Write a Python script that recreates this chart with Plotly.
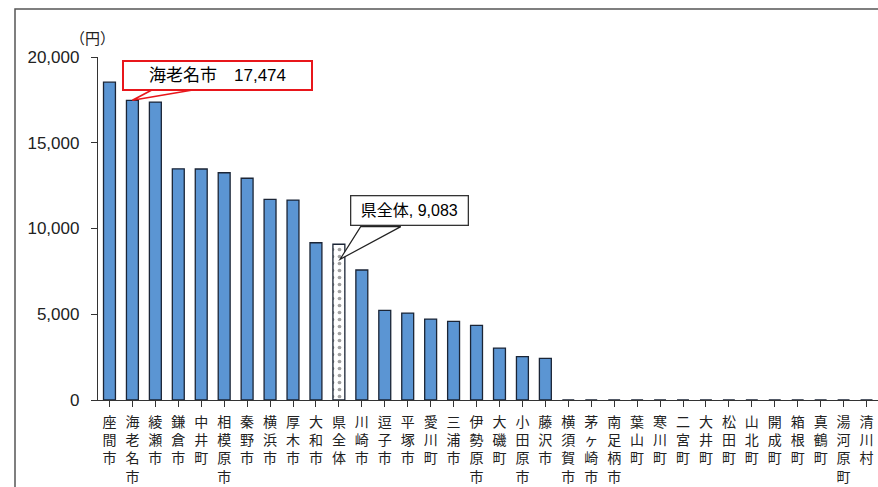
import plotly.graph_objects as go

# Municipalities (Kanagawa) and per-capita amounts in yen
municipalities = [
    "座間市", "海老名市", "綾瀬市", "鎌倉市", "中井町", "相模原市", "秦野市",
    "横浜市", "厚木市", "大和市", "県全体", "川崎市", "逗子市", "平塚市",
    "愛川町", "三浦市", "伊勢原市", "大磯町", "小田原市", "藤沢市",
    "横須賀市", "茅ヶ崎市", "南足柄市", "葉山町", "寒川町", "二宮町",
    "大井町", "松田町", "山北町", "開成町", "箱根町", "真鶴町", "湯河原町",
    "清川村",
]
amounts = [
    18530, 17474, 17370, 13480, 13470, 13250, 12930,
    11700, 11660, 9170, 9083, 7580, 5230, 5070,
    4720, 4590, 4350, 3030, 2530, 2430,
    0, 0, 0, 0, 0, 0,
    0, 0, 0, 0, 0, 0, 0,
    0,
]
y_ticks = [0, 5000, 10000, 15000, 20000]
y_tick_text = ["0", "5,000", "10,000", "15,000", "20,000"]

TOTAL = "県全体"
HIGHLIGHT = "海老名市"

FONT = "Liberation Sans, Noto Sans CJK JP, sans-serif"
BLUE = "#5B95D3"
EDGE = "#1B2536"

# vertical (stacked) category labels
tick_text = ["<br>".join(list(name)) for name in municipalities]

colors = ["white" if m == TOTAL else BLUE for m in municipalities]
patterns = ["." if m == TOTAL else "" for m in municipalities]

fig = go.Figure()
fig.add_trace(go.Bar(
    x=list(range(len(municipalities))),
    y=amounts,
    width=0.52,
    marker=dict(
        color=colors,
        line=dict(color=EDGE, width=1.3),
        pattern=dict(shape=patterns, fgcolor="black", size=7,
                     solidity=0.22, fillmode="overlay"),
    ),
    hoverinfo="skip",
))

n = len(municipalities)
i_total = municipalities.index(TOTAL)
i_hl = municipalities.index(HIGHLIGHT)

# callout wedge for the highlighted city
fig.add_shape(
    type="path", xref="x", yref="y",
    path=f"M {i_hl + 0.95},18150 L {i_hl},{amounts[i_hl]} L {i_hl + 2.95},18150 Z",
    fillcolor="white", line=dict(color="#E8161B", width=1.6), layer="above",
)
fig.add_annotation(
    x=(122 - 98) / 780, y=(400 - 60) / 343, xref="paper", yref="paper",
    xanchor="left", yanchor="top", showarrow=False,
    text="海老名市　17,474", width=183, height=23,
    font=dict(family=FONT, size=17, color="black"),
    bgcolor="white", bordercolor="#E8161B", borderwidth=2, borderpad=2,
)

# callout wedge for the prefecture total
fig.add_shape(
    type="path", xref="x", yref="y",
    path=f"M {i_total + 0.95},10110 L {i_total + 0.05},8200 L {i_total + 2.7},10110 Z",
    fillcolor="white", line=dict(color="#222222", width=1.2), layer="above",
)
fig.add_annotation(
    x=(350 - 98) / 780, y=(400 - 195) / 343, xref="paper", yref="paper",
    xanchor="left", yanchor="top", showarrow=False,
    text="県全体, 9,083", width=112, height=24,
    font=dict(family=FONT, size=16, color="black"),
    bgcolor="white", bordercolor="#333333", borderwidth=1.3, borderpad=2,
)

# unit label
fig.add_annotation(
    x=(92 - 98) / 780, y=(400 - 37) / 343, xref="paper", yref="paper",
    showarrow=False, text="（円）", xanchor="center", yanchor="middle",
    font=dict(family="Noto Sans CJK JP", size=15, color="#222222"),
)

# outer frame
fig.add_shape(
    type="rect", xref="paper", yref="paper",
    x0=(15 - 98) / 780, x1=1.05, y0=-0.4, y1=(400 - 9) / 343,
    line=dict(color="#555555", width=1.5), fillcolor="rgba(0,0,0,0)",
)

fig.update_layout(
    width=878, height=487,
    margin=dict(l=98, r=0, t=57, b=87),
    paper_bgcolor="white", plot_bgcolor="white",
    showlegend=False,
    font=dict(family=FONT, color="#222222"),
    xaxis=dict(
        tickmode="array", tickvals=list(range(n)), ticktext=tick_text,
        range=[-0.5, n - 0.5], tickangle=0, automargin=False,
        showline=True, linecolor="#333333", linewidth=1.3,
        ticks="outside", tickson="boundaries", ticklen=6,
        tickcolor="#333333", tickwidth=1.3, ticklabelstandoff=3,
        tickfont=dict(family=FONT, size=14, color="#222222"),
        showgrid=False, zeroline=False, fixedrange=True,
    ),
    yaxis=dict(
        range=[0, 20000], tickvals=y_ticks, ticktext=y_tick_text,
        automargin=False,
        showline=True, linecolor="#333333", linewidth=1.3,
        ticks="outside", ticklen=6, tickcolor="#333333", tickwidth=1.3,
        ticklabelstandoff=8,
        tickfont=dict(family=FONT, size=17, color="#222222"),
        showgrid=False, zeroline=False, fixedrange=True,
    ),
)

fig.write_html("out.html")
